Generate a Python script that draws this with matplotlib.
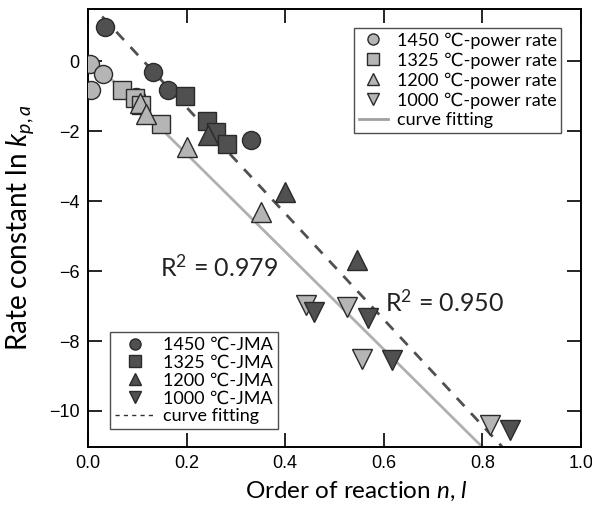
import numpy as np
import matplotlib
matplotlib.use("Agg")
import matplotlib.pyplot as plt
from matplotlib.lines import Line2D

plt.rcParams['font.family'] = ['Lato', 'DejaVu Sans']
plt.rcParams['mathtext.fontset'] = 'custom'
plt.rcParams['mathtext.rm'] = 'Lato'
plt.rcParams['mathtext.it'] = 'Lato:italic'

# power rate (light grey)
pr_1450_x = [0.004, 0.030, 0.007, 0.098]
pr_1450_y = [-0.06, -0.37, -0.83, -1.02]
pr_1325_x = [0.070, 0.095, 0.108, 0.149]
pr_1325_y = [-0.81, -1.05, -1.26, -1.78]
pr_1200_x = [0.105, 0.118, 0.200, 0.351]
pr_1200_y = [-1.20, -1.50, -2.45, -4.30]
pr_1000_x = [0.442, 0.525, 0.556, 0.815]
pr_1000_y = [-6.97, -7.02, -8.50, -10.40]

# JMA (dark grey)
jma_1450_x = [0.034, 0.132, 0.162, 0.331]
jma_1450_y = [0.98, -0.31, -0.83, -2.24]
jma_1325_x = [0.196, 0.241, 0.260, 0.282]
jma_1325_y = [-1.00, -1.70, -2.02, -2.35]
jma_1200_x = [0.243, 0.400, 0.545]
jma_1200_y = [-2.10, -3.73, -5.69]
jma_1000_x = [0.459, 0.568, 0.616, 0.855]
jma_1000_y = [-7.16, -7.35, -8.54, -10.54]

# linear fits: slope, intercept
fit_pr = [-13.98, 0.15]
fit_jma = [-15.17, 1.72]

light = '#b5b5b5'
dark = '#505050'
edge = '#2a2a2a'

fig = plt.figure(figsize=(5.92, 5.14), dpi=100)
ax = fig.add_axes([0.1486, 0.1304, 0.8328, 0.8521])

xf = np.array([0.0, 0.81])
ax.plot(xf, np.polyval(fit_pr, xf), color='#b0b0b0', lw=2, zorder=1)
xj = np.array([0.0, 0.84])
ax.plot(xj, np.polyval(fit_jma, xj), color='#505050', lw=2, ls=(0, (4, 3.5)), zorder=1)

ms = 13
kw = dict(ls='none', mec=edge, mew=1, zorder=3)
ax.plot(pr_1450_x, pr_1450_y, 'o', mfc=light, ms=ms, **kw)
ax.plot(pr_1325_x, pr_1325_y, 's', mfc=light, ms=ms, **kw)
ax.plot(pr_1200_x, pr_1200_y, '^', mfc=light, ms=ms + 1, **kw)
ax.plot(pr_1000_x, pr_1000_y, 'v', mfc=light, ms=ms + 1, **kw)
ax.plot(jma_1450_x, jma_1450_y, 'o', mfc=dark, ms=ms, **kw)
ax.plot(jma_1325_x, jma_1325_y, 's', mfc=dark, ms=ms, **kw)
ax.plot(jma_1200_x, jma_1200_y, '^', mfc=dark, ms=ms + 1, **kw)
ax.plot(jma_1000_x, jma_1000_y, 'v', mfc=dark, ms=ms + 1, **kw)

ax.set_xlim(0, 1.0)
ax.set_ylim(-11.03, 1.5)
ax.set_xticks(np.arange(0, 1.01, 0.2))
ax.set_xticklabels(['0.0', '0.2', '0.4', '0.6', '0.8', '1.0'], family='Liberation Sans')
ax.set_yticks([0, -2, -4, -6, -8, -10])
ax.set_yticklabels(['0', '\u22122', '\u22124', '\u22126', '\u22128', '\u221210'],
                   family='Liberation Sans')
ax.tick_params(direction='in', length=10, width=1.2, top=True, right=True,
               labelsize=13, pad=6)
for s in ax.spines.values():
    s.set_linewidth(1.4)

ax.set_xlabel('Order of reaction $\\mathit{n}$, $\\mathit{l}$', fontsize=17.5)
ax.xaxis.set_label_coords(0.545, -0.075)
ax.set_ylabel('Rate constant ln $\\mathit{k}_{\\mathit{p,a}}$', fontsize=20)
ax.yaxis.set_label_coords(-0.105, 0.5)

ax.text(0.267, -5.89, 'R$^2$ = 0.979', fontsize=18, ha='center', va='center', color='#222222')
ax.text(0.723, -6.89, 'R$^2$ = 0.950', fontsize=18, ha='center', va='center', color='#222222')

lms = 8
h1 = [Line2D([], [], ls='none', marker='o', mfc=light, mec=edge, ms=lms),
      Line2D([], [], ls='none', marker='s', mfc=light, mec=edge, ms=lms),
      Line2D([], [], ls='none', marker='^', mfc=light, mec=edge, ms=lms),
      Line2D([], [], ls='none', marker='v', mfc=light, mec=edge, ms=lms),
      Line2D([], [], color='#a0a0a0', lw=2)]
l1 = ['1450 \u2103-power rate', '1325 \u2103-power rate', '1200 \u2103-power rate',
      '1000 \u2103-power rate', 'curve fitting']
leg1 = ax.legend(h1, l1, loc='upper right', bbox_to_anchor=(0.96, 0.957),
                 fontsize=13, frameon=True, fancybox=False, edgecolor='#222222',
                 handlelength=1.6, handletextpad=0.5, labelspacing=0.2,
                 borderpad=0.25, borderaxespad=0)
leg1.get_frame().set_linewidth(1)
ax.add_artist(leg1)

h2 = [Line2D([], [], ls='none', marker='o', mfc=dark, mec=edge, ms=lms),
      Line2D([], [], ls='none', marker='s', mfc=dark, mec=edge, ms=lms),
      Line2D([], [], ls='none', marker='^', mfc=dark, mec=edge, ms=lms),
      Line2D([], [], ls='none', marker='v', mfc=dark, mec=edge, ms=lms),
      Line2D([], [], color='#333333', lw=1, ls=(0, (3, 3)))]
l2 = ['1450 \u2103-JMA', '1325 \u2103-JMA', '1200 \u2103-JMA', '1000 \u2103-JMA',
      'curve fitting']
leg2 = ax.legend(h2, l2, loc='lower left', bbox_to_anchor=(0.045, 0.042),
                 fontsize=13, frameon=True, fancybox=False, edgecolor='#222222',
                 handlelength=2.2, handletextpad=0.5, labelspacing=0.1,
                 borderpad=0.25, borderaxespad=0)
leg2.get_frame().set_linewidth(1)

fig.savefig('out.png', dpi=100)
